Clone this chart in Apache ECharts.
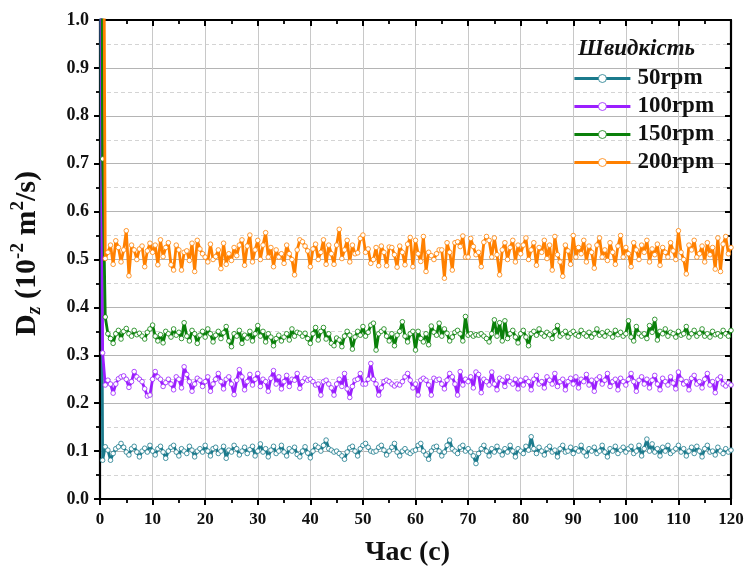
<!DOCTYPE html>
<html><head><meta charset="utf-8">
<script src="https://cdn.jsdelivr.net/npm/echarts@6/dist/echarts.min.js"></script>
<style>html,body{margin:0;padding:0;background:#fff}#c{width:746px;height:567px}</style>
</head><body><div id="c"></div>
<script>
// time step 0.5 s, t = 0 ... 120
const timeStep = 0.5;
const seriesNames = ['50rpm', '100rpm', '150rpm', '200rpm'];
const xTicks = [0,10,20,30,40,50,60,70,80,90,100,110,120];

const rpm50 = [
1.4, 0.081, 0.109, 0.102, 0.081, 0.095, 0.105, 0.109, 0.116, 0.108, 0.098, 0.092, 0.105, 0.110, 0.098, 0.088, 0.100, 0.106, 0.098, 0.112,
0.100, 0.092, 0.105, 0.110, 0.098, 0.085, 0.100, 0.108, 0.112, 0.098, 0.090, 0.105, 0.100, 0.095, 0.110, 0.102, 0.088, 0.100, 0.105, 0.098,
0.112, 0.100, 0.090, 0.105, 0.108, 0.095, 0.100, 0.110, 0.085, 0.102, 0.098, 0.112, 0.105, 0.092, 0.100, 0.108, 0.095, 0.103, 0.110, 0.090,
0.100, 0.115, 0.098, 0.105, 0.088, 0.102, 0.110, 0.095, 0.100, 0.112, 0.098, 0.090, 0.105, 0.100, 0.108, 0.093, 0.088, 0.100, 0.109, 0.096,
0.086, 0.100, 0.112, 0.108, 0.100, 0.112, 0.123, 0.105, 0.102, 0.098, 0.100, 0.095, 0.090, 0.083, 0.098, 0.107, 0.110, 0.100, 0.090, 0.105,
0.112, 0.116, 0.108, 0.100, 0.098, 0.100, 0.108, 0.112, 0.102, 0.092, 0.100, 0.108, 0.116, 0.098, 0.090, 0.100, 0.105, 0.098, 0.095, 0.100,
0.102, 0.112, 0.116, 0.100, 0.092, 0.083, 0.100, 0.108, 0.110, 0.100, 0.090, 0.098, 0.112, 0.123, 0.105, 0.100, 0.095, 0.108, 0.112, 0.100,
0.105, 0.098, 0.090, 0.074, 0.095, 0.105, 0.112, 0.100, 0.090, 0.105, 0.098, 0.110, 0.100, 0.092, 0.105, 0.098, 0.112, 0.100, 0.088, 0.105,
0.100, 0.095, 0.110, 0.102, 0.130, 0.105, 0.095, 0.108, 0.100, 0.092, 0.105, 0.110, 0.098, 0.102, 0.088, 0.105, 0.112, 0.098, 0.100, 0.108,
0.095, 0.105, 0.100, 0.112, 0.098, 0.090, 0.105, 0.100, 0.108, 0.095, 0.100, 0.112, 0.098, 0.088, 0.105, 0.100, 0.110, 0.095, 0.102, 0.108,
0.098, 0.105, 0.110, 0.095, 0.100, 0.112, 0.090, 0.105, 0.125, 0.100, 0.115, 0.098, 0.105, 0.090, 0.108, 0.100, 0.112, 0.095, 0.100, 0.105,
0.112, 0.098, 0.105, 0.090, 0.100, 0.108, 0.095, 0.110, 0.100, 0.088, 0.105, 0.112, 0.098, 0.100, 0.092, 0.108, 0.100, 0.095, 0.105, 0.098,
0.102];

const rpm100 = [
1.6, 0.305, 0.238, 0.248, 0.240, 0.221, 0.240, 0.251, 0.255, 0.257, 0.250, 0.233, 0.245, 0.266, 0.255, 0.250, 0.245, 0.230, 0.215, 0.217,
0.250, 0.266, 0.255, 0.250, 0.235, 0.243, 0.250, 0.240, 0.228, 0.255, 0.250, 0.232, 0.276, 0.260, 0.245, 0.225, 0.240, 0.252, 0.248, 0.235,
0.245, 0.255, 0.225, 0.240, 0.250, 0.262, 0.245, 0.230, 0.250, 0.255, 0.240, 0.218, 0.248, 0.270, 0.255, 0.228, 0.245, 0.260, 0.238, 0.250,
0.262, 0.235, 0.250, 0.245, 0.225, 0.252, 0.268, 0.240, 0.255, 0.230, 0.245, 0.258, 0.235, 0.250, 0.248, 0.262, 0.231, 0.245, 0.252, 0.248,
0.250, 0.245, 0.238, 0.240, 0.217, 0.245, 0.248, 0.240, 0.232, 0.217, 0.240, 0.250, 0.235, 0.262, 0.230, 0.212, 0.235, 0.248, 0.250, 0.262,
0.240, 0.240, 0.250, 0.283, 0.250, 0.240, 0.217, 0.232, 0.245, 0.248, 0.245, 0.240, 0.236, 0.240, 0.238, 0.245, 0.255, 0.262, 0.248, 0.232,
0.240, 0.217, 0.248, 0.252, 0.248, 0.238, 0.217, 0.252, 0.248, 0.250, 0.240, 0.230, 0.248, 0.262, 0.255, 0.240, 0.217, 0.266, 0.238, 0.250,
0.245, 0.255, 0.232, 0.265, 0.260, 0.222, 0.250, 0.245, 0.238, 0.265, 0.240, 0.228, 0.252, 0.248, 0.235, 0.255, 0.245, 0.240, 0.250, 0.230,
0.248, 0.238, 0.252, 0.245, 0.228, 0.250, 0.258, 0.240, 0.245, 0.232, 0.255, 0.248, 0.240, 0.262, 0.235, 0.245, 0.250, 0.228, 0.245, 0.252,
0.240, 0.255, 0.232, 0.250, 0.245, 0.260, 0.238, 0.248, 0.225, 0.250, 0.255, 0.240, 0.248, 0.262, 0.235, 0.245, 0.250, 0.228, 0.252, 0.245,
0.238, 0.250, 0.262, 0.245, 0.225, 0.248, 0.255, 0.240, 0.250, 0.232, 0.248, 0.258, 0.240, 0.228, 0.252, 0.245, 0.238, 0.255, 0.242, 0.230,
0.265, 0.250, 0.240, 0.245, 0.228, 0.252, 0.258, 0.240, 0.245, 0.232, 0.250, 0.262, 0.238, 0.245, 0.222, 0.250, 0.255, 0.240, 0.236, 0.242,
0.238];

const rpm150 = [
2.2, 0.71, 0.38, 0.345, 0.335, 0.325, 0.345, 0.352, 0.334, 0.350, 0.356, 0.345, 0.340, 0.352, 0.343, 0.346, 0.340, 0.334, 0.348, 0.355,
0.363, 0.340, 0.330, 0.343, 0.326, 0.350, 0.345, 0.338, 0.355, 0.342, 0.348, 0.335, 0.368, 0.340, 0.330, 0.352, 0.345, 0.325, 0.342, 0.350,
0.338, 0.355, 0.345, 0.328, 0.342, 0.350, 0.335, 0.347, 0.360, 0.330, 0.318, 0.345, 0.340, 0.352, 0.325, 0.342, 0.336, 0.350, 0.330, 0.345,
0.362, 0.340, 0.350, 0.328, 0.345, 0.338, 0.320, 0.335, 0.342, 0.330, 0.338, 0.345, 0.332, 0.355, 0.340, 0.348, 0.346, 0.340, 0.346, 0.335,
0.325, 0.345, 0.358, 0.332, 0.350, 0.358, 0.334, 0.345, 0.325, 0.320, 0.336, 0.332, 0.318, 0.340, 0.350, 0.342, 0.313, 0.338, 0.350, 0.342,
0.360, 0.340, 0.348, 0.363, 0.367, 0.311, 0.345, 0.350, 0.355, 0.340, 0.330, 0.345, 0.320, 0.342, 0.350, 0.370, 0.340, 0.328, 0.345, 0.350,
0.311, 0.350, 0.335, 0.328, 0.345, 0.322, 0.361, 0.348, 0.342, 0.367, 0.340, 0.355, 0.346, 0.330, 0.338, 0.348, 0.352, 0.345, 0.330, 0.381,
0.342, 0.345, 0.340, 0.343, 0.342, 0.345, 0.340, 0.335, 0.328, 0.345, 0.374, 0.340, 0.368, 0.330, 0.372, 0.335, 0.345, 0.352, 0.338, 0.326,
0.345, 0.352, 0.338, 0.320, 0.345, 0.350, 0.342, 0.355, 0.345, 0.340, 0.348, 0.343, 0.335, 0.350, 0.362, 0.340, 0.345, 0.350, 0.338, 0.346,
0.350, 0.343, 0.340, 0.352, 0.345, 0.340, 0.348, 0.338, 0.345, 0.355, 0.342, 0.347, 0.340, 0.350, 0.345, 0.338, 0.352, 0.343, 0.348, 0.340,
0.345, 0.372, 0.338, 0.330, 0.360, 0.345, 0.340, 0.345, 0.335, 0.362, 0.348, 0.375, 0.332, 0.350, 0.345, 0.355, 0.340, 0.348, 0.345, 0.338,
0.350, 0.342, 0.345, 0.360, 0.338, 0.345, 0.352, 0.340, 0.346, 0.355, 0.340, 0.345, 0.338, 0.350, 0.343, 0.345, 0.340, 0.352, 0.345, 0.340,
0.352];

const rpm200 = [
3.0, 1.8, 0.502, 0.515, 0.530, 0.490, 0.539, 0.525, 0.495, 0.520, 0.560, 0.466, 0.530, 0.520, 0.500, 0.522, 0.528, 0.485, 0.518, 0.534,
0.515, 0.530, 0.489, 0.541, 0.506, 0.525, 0.535, 0.489, 0.478, 0.530, 0.520, 0.478, 0.515, 0.518, 0.498, 0.534, 0.475, 0.540, 0.522, 0.512,
0.505, 0.495, 0.532, 0.500, 0.506, 0.520, 0.481, 0.534, 0.490, 0.512, 0.498, 0.525, 0.508, 0.530, 0.541, 0.488, 0.528, 0.551, 0.495, 0.520,
0.540, 0.500, 0.530, 0.556, 0.505, 0.525, 0.485, 0.520, 0.505, 0.512, 0.492, 0.530, 0.512, 0.500, 0.468, 0.520, 0.541, 0.537, 0.528, 0.518,
0.485, 0.522, 0.532, 0.500, 0.515, 0.541, 0.490, 0.530, 0.512, 0.490, 0.530, 0.563, 0.502, 0.520, 0.540, 0.495, 0.530, 0.512, 0.514, 0.544,
0.551, 0.515, 0.522, 0.492, 0.500, 0.525, 0.487, 0.528, 0.515, 0.487, 0.526, 0.525, 0.510, 0.484, 0.528, 0.515, 0.489, 0.532, 0.546, 0.485,
0.540, 0.512, 0.496, 0.548, 0.475, 0.515, 0.508, 0.500, 0.512, 0.520, 0.520, 0.461, 0.535, 0.515, 0.478, 0.535, 0.537, 0.527, 0.549, 0.505,
0.505, 0.544, 0.527, 0.510, 0.515, 0.485, 0.536, 0.548, 0.540, 0.505, 0.545, 0.510, 0.468, 0.520, 0.535, 0.500, 0.525, 0.540, 0.495, 0.530,
0.512, 0.530, 0.545, 0.500, 0.520, 0.535, 0.488, 0.525, 0.515, 0.540, 0.502, 0.530, 0.478, 0.548, 0.510, 0.495, 0.465, 0.530, 0.518, 0.490,
0.550, 0.505, 0.525, 0.512, 0.540, 0.495, 0.528, 0.515, 0.482, 0.530, 0.545, 0.505, 0.520, 0.498, 0.535, 0.515, 0.490, 0.528, 0.550, 0.505,
0.525, 0.512, 0.485, 0.535, 0.520, 0.500, 0.530, 0.515, 0.540, 0.495, 0.522, 0.510, 0.532, 0.488, 0.525, 0.515, 0.505, 0.535, 0.518, 0.500,
0.560, 0.515, 0.500, 0.470, 0.530, 0.520, 0.540, 0.505, 0.512, 0.528, 0.495, 0.535, 0.510, 0.525, 0.480, 0.545, 0.475, 0.532, 0.548, 0.512,
0.525];

const colors = ['#1B7A8C', '#9B1EFF', '#0A800A', '#FF8000'];
const FONT = '"Liberation Serif", "Times New Roman", serif';

function pairs(arr){ return arr.map((v,i)=>[i*timeStep, v]); }

const chart = echarts.init(document.getElementById('c'), null, {renderer:'canvas'});
const allData = [rpm50, rpm100, rpm150, rpm200];
const series = allData.map((arr, k) => ({
  name: seriesNames[k],
  type: 'line',
  data: pairs(arr),
  xAxisIndex: 0, yAxisIndex: 0,
  symbol: 'circle',
  symbolSize: 4.6,
  showSymbol: true,
  showAllSymbol: true,
  clip: true,
  lineStyle: {color: colors[k], width: 2.8},
  itemStyle: {color: '#ffffff', borderColor: colors[k], borderWidth: 0.8},
  emphasis: {disabled: true},
  animation: false,
  z: 2 + k
}));

chart.setOption({
  animation: false,
  backgroundColor: '#fff',
  title: {
    text: 'Швидкість', left: 573, top: 33,
    textStyle: {fontFamily: FONT, fontStyle: 'italic', fontWeight: 'bold', fontSize: 23, color: '#111'}
  },
  legend: {
    data: seriesNames.map((n,k)=>({name:n, itemStyle:{color:'#fff', borderColor:colors[k], borderWidth:0.8}, lineStyle:{color:colors[k], width:2.8}})),
    orient: 'vertical', left: 568, top: 62,
    itemWidth: 56, itemHeight: 10, itemGap: 5,
    textStyle: {fontFamily: FONT, fontWeight: 'bold', fontSize: 23, color: '#111', padding: [0,0,0,2]},
    selectedMode: false
  },
  grid: {left: 100, top: 20, width: 631, height: 479, show: false, containLabel: false, outerBoundsMode: 'none'},
  xAxis: [{
    type: 'value', min: 0, max: 120, interval: 10, position: 'bottom',
    axisLine: {show: true, onZero: false, lineStyle: {color: '#000', width: 2.2}},
    axisTick: {show: true, inside: false, length: 6, lineStyle: {color:'#000', width: 2}},
    minorTick: {show: true, splitNumber: 2, length: 4, lineStyle: {color:'#000', width: 1.8}},
    axisLabel: {fontFamily: FONT, fontWeight: 'bold', fontSize: 17, color: '#111', margin: 12, customValues: xTicks},
    splitLine: {show: true, lineStyle: {color: '#c8c8c8', width: 1}},
    name: 'Час (с)', nameLocation: 'middle', nameGap: 40,
    nameTextStyle: {fontFamily: FONT, fontWeight: 'bold', fontSize: 28, color: '#111', padding: [0, 16, 0, 0]}
  }, {
    type: 'value', min: 0, max: 120, interval: 10, position: 'top',
    axisLine: {show: true, onZero: false, lineStyle: {color: '#000', width: 2.2}},
    axisTick: {show: true, inside: true, length: 6, lineStyle: {color:'#000', width: 2}},
    minorTick: {show: true, splitNumber: 2, length: 4, lineStyle: {color:'#000', width: 1.8}},
    axisLabel: {show: false}, splitLine: {show: false}
  }],
  yAxis: [{
    type: 'value', min: 0, max: 1, interval: 0.1, position: 'left',
    axisLine: {show: true, onZero: false, lineStyle: {color: '#000', width: 2.2}},
    axisTick: {show: true, inside: false, length: 6, lineStyle: {color:'#000', width: 2}},
    minorTick: {show: true, splitNumber: 2, length: 4, lineStyle: {color:'#000', width: 1.8}},
    axisLabel: {fontFamily: FONT, fontWeight: 'bold', fontSize: 18, color: '#111', margin: 11,
      formatter: v => v.toFixed(1)},
    splitLine: {show: true, lineStyle: {color: '#b4b4b4', width: 1}},
    minorSplitLine: {show: true, lineStyle: {color: '#d4d4d4', width: 1, type: [4,3]}},
    name: '{b|D}{sub|z}{b| (10}{sup|-2}{b| m}{sup|2}{b|/s)}',
    nameLocation: 'middle', nameGap: 55, nameRotate: 90,
    nameTextStyle: {
      padding: [0, 0, 0, 12],
      rich: {
        b: {fontFamily: FONT, fontWeight: 'bold', fontSize: 30, color: '#111', lineHeight: 36, verticalAlign: 'middle'},
        sub: {fontFamily: FONT, fontWeight: 'bold', fontStyle: 'italic', fontSize: 20, color: '#111', lineHeight: 36, verticalAlign: 'bottom'},
        sup: {fontFamily: FONT, fontWeight: 'bold', fontSize: 19, color: '#111', lineHeight: 36, verticalAlign: 'top'}
      }
    }
  }, {
    type: 'value', min: 0, max: 1, interval: 0.1, position: 'right',
    axisLine: {show: true, onZero: false, lineStyle: {color: '#000', width: 2.2}},
    axisTick: {show: true, inside: true, length: 6, lineStyle: {color:'#000', width: 2}},
    minorTick: {show: true, splitNumber: 2, length: 4, lineStyle: {color:'#000', width: 1.8}},
    axisLabel: {show: false}, splitLine: {show: false}
  }],
  series: series
});
</script>
</body></html>
